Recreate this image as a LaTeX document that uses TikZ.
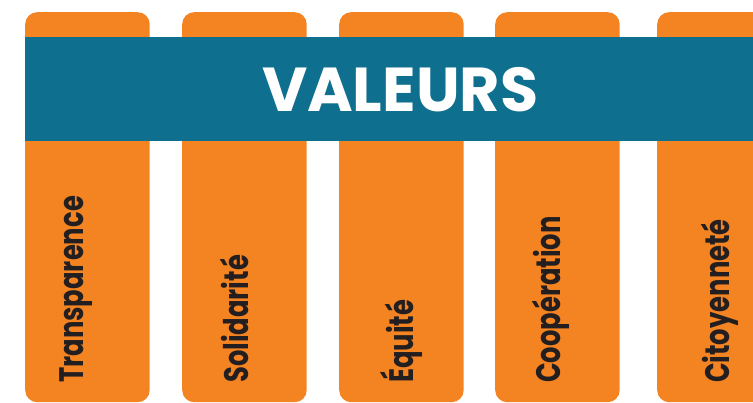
\documentclass[tikz,border=0pt]{standalone}
\usepackage{fontspec}
\setmainfont{Poppins}
\newfontfamily\labelfont[FakeStretch=0.76]{Poppins}
\usepackage{tikz}
\usetikzlibrary{positioning}

\definecolor{valorange}{HTML}{F48322}
\definecolor{valteal}{HTML}{0F6F8E}
\definecolor{valtext}{HTML}{231F20}

\tikzset{
	pillar/.style = {fill = valorange, rounded corners = 12pt, anchor = north west,
		minimum width = 124.5pt, minimum height = 390pt, inner sep = 0pt},
	banner/.style = {fill = valteal, anchor = north west, minimum width = 750pt,
		minimum height = 104pt, inner sep = 0pt, text = white,
		font = \fontsize{62}{68}\selectfont\bfseries},
	valeur/.style = {rotate = 90, anchor = base west, inner sep = 0pt, text = valtext,
		font = \labelfont\fontsize{34}{40}\selectfont\bfseries}
}

\begin{document}
\begin{tikzpicture}[x = 1pt, y = -1pt]
	\useasboundingbox (0,0) rectangle (753,402);
	\clip (0,0) rectangle (753,402);
	% les piliers
	\node[pillar] (col1) at (25,12) {};
	\node[pillar] (col2) at (182,12) {};
	\node[pillar] (col3) at (339,12) {};
	\node[pillar] (col4) at (495,12) {};
	\node[pillar] (col5) at (657,12) {};
	% bandeau
	\node[banner] (band) at (25,37) {VALEURS};
	% textes
	\node[valeur] (lab1) at (83,383) {Transparence};
	\node[valeur] (lab2) at (248,383) {Solidarité};
	\node[valeur] (lab3) at (413,383) {Équité};
	\node[valeur] (lab4) at (560,383) {Coopération};
	\node[valeur] (lab5) at (729,383) {Citoyenneté};
\end{tikzpicture}
\end{document}
